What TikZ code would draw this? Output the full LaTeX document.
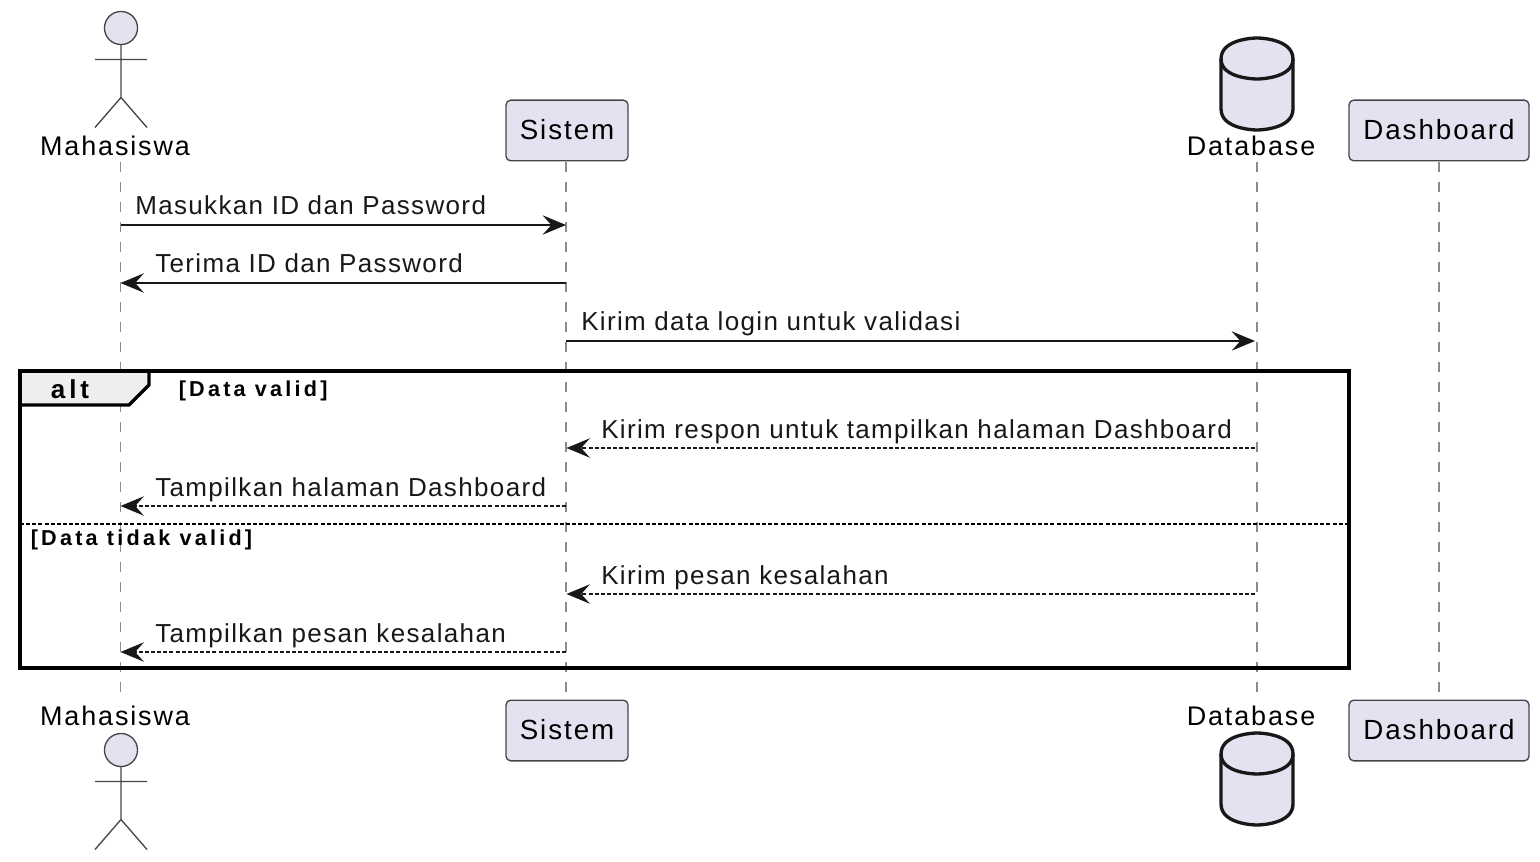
\documentclass[tikz,border=0pt]{standalone}
\usepackage{fontspec}
\setmainfont[LetterSpace=7]{Liberation Sans}
\newfontfamily\msgfont[LetterSpace=5.2]{Liberation Sans}
\newfontfamily\guardfont[LetterSpace=15]{Liberation Sans}
\usetikzlibrary{arrows.meta}
\definecolor{boxfill}{HTML}{E2E2F0}
\definecolor{inkline}{HTML}{181818}
\definecolor{tabfill}{HTML}{EEEEEE}
\definecolor{lifegray}{HTML}{8A8A8A}
\tikzset{
	partbox/.style={draw=inkline!80, line width=1pt, fill=boxfill, rounded corners=3.5pt, minimum width=91.5pt, minimum height=45.5pt, inner sep=0pt, text height=14pt, text depth=0pt, font=\fontsize{20.8}{24}\selectfont},
	partlabel/.style={anchor=base, inner sep=0pt, font=\fontsize{20.2}{24}\selectfont},
	msglabel/.style={anchor=base west, inner sep=0pt, font=\msgfont\fontsize{19.5}{23}\selectfont, text=inkline},
	guardlabel/.style={anchor=base west, inner sep=0pt, font=\guardfont\bfseries\fontsize{16.2}{19}\selectfont, text=black},
	lifeline/.style={draw=lifegray, line width=1.2pt, dash pattern=on 7.5pt off 7.5pt},
	sync/.style={draw=inkline, line width=1.6pt, -{Stealth[length=17.5pt,width=14.5pt,inset=6.5pt]}},
	reply/.style={sync, dash pattern=on 3pt off 1.6pt},
	actorfig/.pic={
		\draw[draw=inkline!80, line width=1pt, fill=boxfill] (0,16.5) circle[radius=12.4pt];
		\draw[draw=inkline!80, line width=1pt] (0,33) -- (0,86) (-26,48) -- (26,48) (-26,116) -- (0,86) -- (26,116);
	},
	dbcyl/.pic={
		\draw[draw=inkline, line width=2.5pt, fill=boxfill] (-36,21) .. controls (-36,0) and (0,0) .. (0,0) .. controls (0,0) and (36,0) .. (36,21) -- (36,71) .. controls (36,92) and (0,92) .. (0,92) .. controls (0,92) and (-36,92) .. (-36,71) -- cycle;
		\draw[draw=inkline, line width=2.5pt] (-36,21) .. controls (-36,41) and (0,41) .. (0,41) .. controls (0,41) and (36,41) .. (36,21);
	}
}
\begin{document}
\begin{tikzpicture}[x=.75pt, y=-.75pt]
	\useasboundingbox (0,0) rectangle (1540,862);

	% lifeline ends
	\coordinate (mhsTop) at (120.5,162);
	\coordinate (mhsEnd) at (120.5,700);
	\coordinate (sisTop) at (566,162);
	\coordinate (sisEnd) at (566,700);
	\coordinate (dbTop) at (1257,162);
	\coordinate (dbEnd) at (1257,700);
	\coordinate (dshTop) at (1439,162);
	\coordinate (dshEnd) at (1439,700);
	\draw[lifeline] (mhsTop) -- (mhsEnd);
	\draw[lifeline] (sisTop) -- (sisEnd);
	\draw[lifeline] (dbTop) -- (dbEnd);
	\draw[lifeline] (dshTop) -- (dshEnd);

	% top row
	\pic at (121,11.5) {actorfig};
	\node[partlabel] (mhsHead) at (115,156) {Mahasiswa};
	\node[partbox] (sisHead) at (567,130.5) {Sistem};
	\pic at (1257,38) {dbcyl};
	\node[partlabel] (dbHead) at (1251,156) {Database};
	\node[partbox, minimum width=135pt] (dshHead) at (1439,130.5) {Dashboard};

	% bottom row
	\pic at (121,733.5) {actorfig};
	\node[partlabel] (mhsFoot) at (115,725) {Mahasiswa};
	\node[partbox] (sisFoot) at (567,730.5) {Sistem};
	\pic at (1257,733) {dbcyl};
	\node[partlabel] (dbFoot) at (1251,725) {Database};
	\node[partbox, minimum width=135pt] (dshFoot) at (1439,730.5) {Dashboard};

	% alt frame
	\draw[line width=2.6pt, fill=tabfill] (20,371) -- (149,371) -- (149,385) -- (129,405) -- (20,405) -- cycle;
	\node[inner sep=0pt, anchor=base, font=\guardfont\bfseries\fontsize{19.5}{22}\selectfont] (altTag) at (70,398) {alt};
	\node[guardlabel] (validTag) at (178.5,396.5) {[Data valid]};
	\coordinate (splitL) at (20,524);
	\coordinate (splitR) at (1349,524);
	\draw[line width=1.5pt, dash pattern=on 3pt off 1.6pt] (splitL) -- (splitR);
	\node[guardlabel] (invalidTag) at (30.5,545) {[Data tidak valid]};
	\draw[line width=2.6pt] (20,371) rectangle (1349,668);

	% message ends
	\coordinate (mhsA) at (120.5,225);
	\coordinate (sisA) at (566,225);
	\coordinate (sisB) at (566,283);
	\coordinate (mhsB) at (120.5,283);
	\coordinate (sisC) at (566,341);
	\coordinate (dbC) at (1255,341);
	\coordinate (dbD) at (1255,448);
	\coordinate (sisD) at (566.5,448);
	\coordinate (sisE) at (566,506);
	\coordinate (mhsE) at (120.5,506);
	\coordinate (dbF) at (1255,594);
	\coordinate (sisF) at (566.5,594);
	\coordinate (sisG) at (566,652);
	\coordinate (mhsG) at (120.5,652);

	% messages
	\node[msglabel] (msgA) at (135,215) {Masukkan ID dan Password};
	\draw[sync] (mhsA) -- (sisA);
	\node[msglabel] (msgB) at (155,273) {Terima ID dan Password};
	\draw[sync] (sisB) -- (mhsB);
	\node[msglabel] (msgC) at (581,331) {Kirim data login untuk validasi};
	\draw[sync] (sisC) -- (dbC);
	\node[msglabel] (msgD) at (601,438) {Kirim respon untuk tampilkan halaman Dashboard};
	\draw[reply] (dbD) -- (sisD);
	\node[msglabel] (msgE) at (155,496) {Tampilkan halaman Dashboard};
	\draw[reply] (sisE) -- (mhsE);
	\node[msglabel] (msgF) at (601,584) {Kirim pesan kesalahan};
	\draw[reply] (dbF) -- (sisF);
	\node[msglabel] (msgG) at (155,642) {Tampilkan pesan kesalahan};
	\draw[reply] (sisG) -- (mhsG);
\end{tikzpicture}
\end{document}
